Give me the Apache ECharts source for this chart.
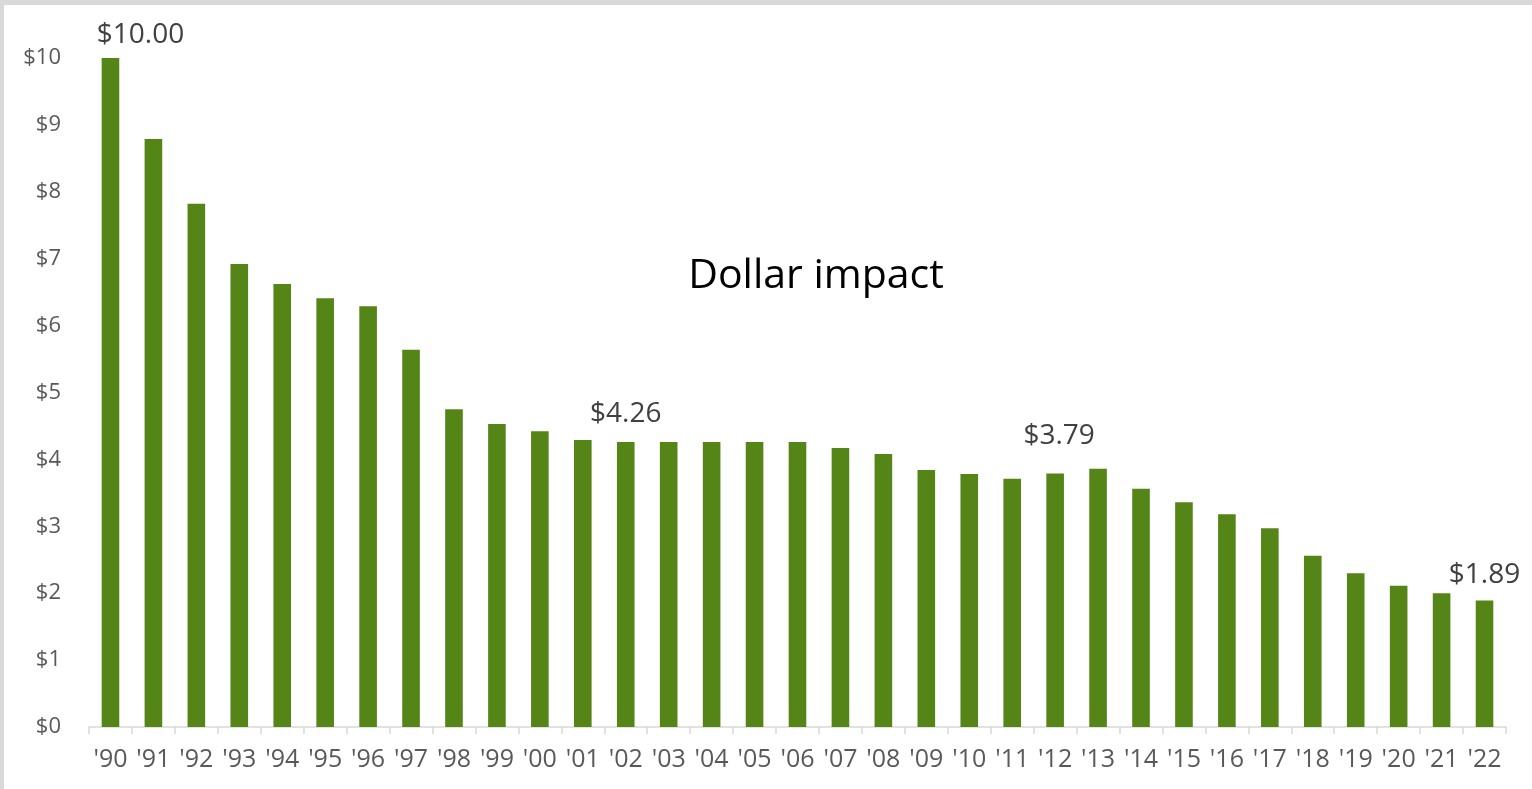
<!DOCTYPE html>
<html>
<head>
<meta charset="utf-8">
<script src="https://cdn.jsdelivr.net/npm/echarts@6/dist/echarts.min.js"></script>
<style>
  html, body { margin: 0; padding: 0; background: #fff; }
  #chart {
    position: absolute; left: 0; top: 0;
    width: 1528px; height: 784px;
    border-top: 5px solid #d9d9d9;
    border-left: 4px solid #d9d9d9;
  }
</style>
</head>
<body>
<div id="chart"></div>
<script>
// fiscal years shown on the x axis
const years = ["'90","'91","'92","'93","'94","'95","'96","'97","'98","'99","'00","'01","'02","'03","'04","'05","'06","'07","'08","'09","'10","'11","'12","'13","'14","'15","'16","'17","'18","'19","'20","'21","'22"]
// value of the dollar
const dollarValue = [10.00, 8.79, 7.82, 6.92, 6.62, 6.41, 6.29, 5.64, 4.75, 4.53, 4.42, 4.29, 4.26, 4.26, 4.26, 4.26, 4.26, 4.17, 4.08, 3.84, 3.78, 3.71, 3.79, 3.86, 3.56, 3.36, 3.18, 2.97, 2.56, 2.30, 2.11, 2.00, 1.89]
// which bars get a value label
const labelled = ["'90", "'02", "'12", "'22"]
const yTicks = [0, 1, 2, 3, 4, 5, 6, 7, 8, 9, 10]

const font = '"Open Sans", "Noto Sans", sans-serif'
// label placement tweaks, keyed by year
const labelPos = {
  "'90": { offset: [30, 0], distance: 9 },
  "'02": { offset: [0, 0], distance: 14 },
  "'12": { offset: [4, 0], distance: 23 },
  "'22": { offset: [0, 0], distance: 12 }
}

let myChart = echarts.init(document.getElementById('chart'))

let barData = dollarValue.map((v, i) => {
  let yr = years[i]
  if (labelled.indexOf(yr) < 0) return v
  return {
    value: v,
    label: {
      show: true,
      position: 'top',
      distance: labelPos[yr].distance,
      offset: labelPos[yr].offset,
      formatter: p => '$' + p.value.toFixed(2),
      color: '#404040',
      fontSize: 28,
      fontFamily: font
    }
  }
})

myChart.setOption({
  animation: false,
  title: {
    text: 'Dollar impact',
    left: 807,
    top: 246,
    textAlign: 'center',
    textStyle: {
      color: '#000',
      fontSize: 41,
      fontWeight: 'normal',
      fontFamily: font
    }
  },
  grid: {
    left: 85,
    right: 26,
    top: 53,
    bottom: 62
  },
  xAxis: {
    type: 'category',
    data: years,
    axisLine: {
      lineStyle: { color: '#d9d9d9', width: 1.5 }
    },
    axisTick: {
      show: true,
      length: 7,
      lineStyle: { color: '#d9d9d9', width: 1.5 }
    },
    axisLabel: {
      interval: 0,
      margin: 20,
      color: '#595959',
      fontSize: 25,
      fontFamily: font
    }
  },
  yAxis: {
    type: 'value',
    min: yTicks[0],
    max: yTicks[yTicks.length - 1],
    interval: 1,
    axisLine: { show: false },
    axisTick: { show: false },
    splitLine: { show: false },
    axisLabel: {
      margin: 28,
      color: '#595959',
      fontSize: 22,
      fontFamily: font,
      formatter: v => '$' + v
    }
  },
  series: [{
    type: 'bar',
    data: barData,
    barWidth: '41%',
    itemStyle: { color: '#548516' }
  }]
})
</script>
</body>
</html>
